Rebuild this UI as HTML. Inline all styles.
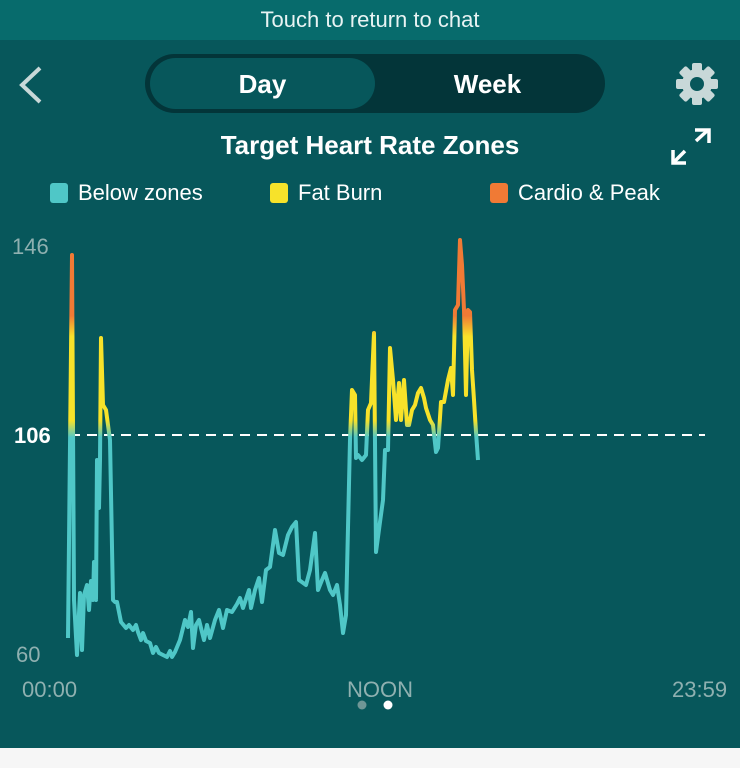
<!DOCTYPE html><html><head><style>
body{margin:0;width:740px;height:768px;background:#f6f6f6;font-family:"Liberation Sans",sans-serif;overflow:hidden;position:relative}
.top{position:absolute;left:0;top:0;width:740px;height:40px;background:#076b6c;color:#e8f3f3;font-size:22px;text-align:center;line-height:40px}
.main{position:absolute;left:0;top:40px;width:740px;height:708px;background:#07575b}
.t{position:absolute;color:#fff;white-space:nowrap}
</style></head><body>
<div class="top">Touch to return to chat</div>
<div class="main"></div>
<div style="position:absolute;left:145px;top:54px;width:460px;height:59px;border-radius:30px;background:#033539"></div>
<div style="position:absolute;left:150px;top:58px;width:225px;height:51px;border-radius:26px;background:#07575b"></div>
<div class="t" style="left:150px;width:225px;text-align:center;top:69px;font-size:26px;font-weight:bold">Day</div>
<div class="t" style="left:375px;width:225px;text-align:center;top:69px;font-size:26px;font-weight:bold">Week</div>
<svg style="position:absolute;left:0;top:0" width="740" height="768">
<polyline points="40,68 22,85 40,102" fill="none" stroke="#c8d8d8" stroke-width="4"/>
<g transform="translate(697,84)" fill="#c8d8d8"><circle r="15"/><g><rect x="-5" y="-21" width="10" height="42" rx="2"/><rect x="-5" y="-21" width="10" height="42" rx="2" transform="rotate(45)"/><rect x="-5" y="-21" width="10" height="42" rx="2" transform="rotate(90)"/><rect x="-5" y="-21" width="10" height="42" rx="2" transform="rotate(135)"/></g><circle r="7" fill="#07575b"/></g>
<g stroke="#fff" stroke-width="3.5" fill="none"><line x1="674" y1="162" x2="685" y2="151"/><line x1="696" y1="141" x2="708" y2="130"/><polyline points="695,130 709,130 709,143"/><polyline points="673,150 673,163 686,163"/></g>
<rect x="50" y="183" width="18" height="20" rx="3" fill="#4fc7c7"/>
<rect x="270" y="183" width="18" height="20" rx="3" fill="#f7e22a"/>
<rect x="490" y="183" width="18" height="20" rx="3" fill="#f07a35"/>
<line x1="70" y1="435" x2="705" y2="435" stroke="#fff" stroke-width="2" stroke-dasharray="10,7"/>
<defs><linearGradient id="g" gradientUnits="userSpaceOnUse" x1="0" y1="240" x2="0" y2="660">
<stop offset="0" stop-color="#f07a35"/><stop offset="0.18" stop-color="#f07a35"/><stop offset="0.23" stop-color="#f7e22a"/><stop offset="0.43" stop-color="#f7e22a"/><stop offset="0.47" stop-color="#4fc7c7"/><stop offset="1" stop-color="#4fc7c7"/></linearGradient></defs>
<polyline fill="none" stroke="url(#g)" stroke-width="4" stroke-linejoin="round" points="68,638 72,255 74,600 77,655 80,593 82,650 84,595 87,585 89,610 91,581 93,600 94,562 96,600 97,460 99,508 100,460 101,338 103,405 106,410 110,440 113,600 115,602 117,602 121,622 126,628 129,625 133,630 136,625 138,632 141,640 143,633 146,641 150,643 153,653 156,647 159,653 163,655 167,657 170,651 172,657 175,652 180,640 185,620 188,627 191,612 193,648 196,625 199,620 204,640 207,625 210,638 215,620 219,610 223,628 227,610 232,612 237,604 240,598 243,608 249,590 251,608 255,590 259,578 262,602 266,570 270,567 275,530 279,553 283,555 288,535 292,527 296,522 299,580 306,585 310,570 315,533 318,590 322,580 325,573 330,590 333,595 337,585 340,605 343,633 346,615 350,440 352,390 355,395 356,458 358,455 362,460 366,455 368,410 371,403 374,333 376,552 380,522 383,500 385,450 388,450 390,348 393,380 396,420 399,383 401,420 404,380 407,425 409,425 412,410 415,405 418,393 421,388 424,398 426,408 430,420 433,425 436,452 438,448 441,402 444,402 448,380 451,368 453,395 455,310 458,305 460,240 462,265 464,310 466,395 468,310 470,312 472,370 474,400 476,432 478,460"/>
<circle cx="362" cy="705" r="4.5" fill="#6f9696"/><circle cx="388" cy="705" r="4.5" fill="#fff"/>
</svg>
<div class="t" style="left:0;width:740px;text-align:center;top:130px;font-size:26px;font-weight:bold">Target Heart Rate Zones</div>
<div class="t" style="left:78px;top:180px;font-size:22px">Below zones</div>
<div class="t" style="left:298px;top:180px;font-size:22px">Fat Burn</div>
<div class="t" style="left:518px;top:180px;font-size:22px">Cardio &amp; Peak</div>
<div class="t" style="left:12px;top:234px;font-size:22px;color:#8fb0b0">146</div>
<div class="t" style="left:14px;top:423px;font-size:22px;font-weight:bold">106</div>
<div class="t" style="left:16px;top:642px;font-size:22px;color:#8fb0b0">60</div>
<div class="t" style="left:22px;top:677px;font-size:22px;color:#8fb0b0">00:00</div>
<div class="t" style="left:330px;width:100px;text-align:center;top:677px;font-size:22px;color:#8fb0b0">NOON</div>
<div class="t" style="left:672px;top:677px;font-size:22px;color:#8fb0b0">23:59</div>
</body></html>
